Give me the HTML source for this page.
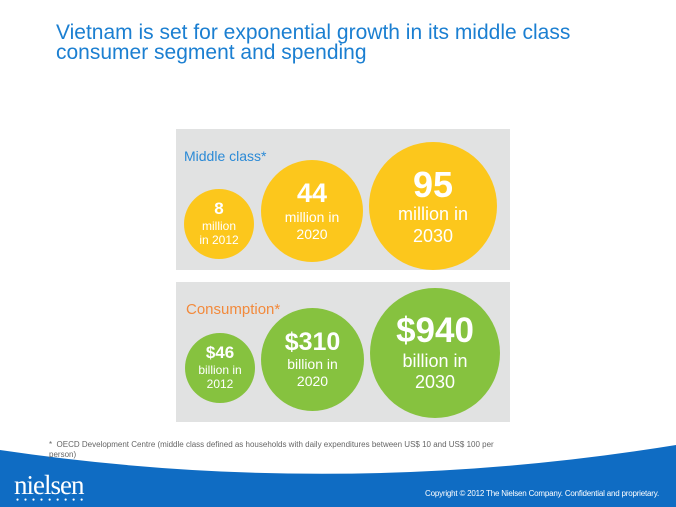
<!DOCTYPE html>
<html><head><meta charset="utf-8"><style>
body{margin:0;width:676px;height:507px;overflow:hidden;background:#fff;font-family:"Liberation Sans",sans-serif;position:relative}
.t{position:absolute;left:56px;top:23px;color:#1b7fd1;font-size:21px;line-height:20px}
.p{position:absolute;left:176px;width:334px;background:#e1e2e2}
.c{position:absolute;border-radius:50%;color:#fff;text-align:center;display:flex;flex-direction:column;justify-content:center;align-items:center;line-height:1.2}
.y{background:#fcc71c}.g{background:#86c23f}
b{font-weight:bold;line-height:1.1}
</style></head><body>
<div class="t">Vietnam is set for exponential growth in its middle class<br>consumer segment and spending</div>
<div class="p" style="top:129px;height:141px"></div>
<div class="p" style="top:282px;height:140px"></div>
<div style="position:absolute;left:184px;top:148px;color:#2b8ad6;font-size:14px">Middle class*</div>
<div style="position:absolute;left:186px;top:301px;color:#f28a3c;font-size:15px">Consumption*</div>
<div class="c y" style="left:184px;top:189px;width:70px;height:70px;font-size:12px"><b style="font-size:17px">8</b>million<br>in 2012</div>
<div class="c y" style="left:261px;top:160px;width:102px;height:102px;font-size:14px"><b style="font-size:27px">44</b>million in<br>2020</div>
<div class="c y" style="left:369px;top:142px;width:128px;height:128px;font-size:18px"><b style="font-size:36px">95</b>million in<br>2030</div>
<div class="c g" style="left:185px;top:333px;width:70px;height:70px;font-size:12px"><b style="font-size:17px">$46</b>billion in<br>2012</div>
<div class="c g" style="left:261px;top:308px;width:103px;height:103px;font-size:14px"><b style="font-size:25px">$310</b>billion in<br>2020</div>
<div class="c g" style="left:370px;top:288px;width:130px;height:130px;font-size:18px"><b style="font-size:35px">$940</b>billion in<br>2030</div>
<svg style="position:absolute;left:0;top:0" width="676" height="507"><path d="M0,450 Q338,500 676,445 L676,507 L0,507 Z" fill="#0f6cc3"/></svg>
<div style="position:absolute;left:49px;top:440px;font-size:8px;color:#666;line-height:10px;width:480px">*&nbsp; OECD Development Centre (middle class defined as households with daily expenditures between US$ 10 and US$ 100 per<br>person)</div>
<div style="position:absolute;left:14px;top:470px;color:#fff;font-family:'Liberation Serif',serif;font-size:27px;letter-spacing:-1px">nielsen</div>
<div style="position:absolute;left:16px;top:497px;color:#fff;font-size:5px;letter-spacing:5px">●●●●●●●●●</div>
<div style="position:absolute;left:425px;top:489px;color:#fff;font-size:8px;letter-spacing:-0.2px">Copyright © 2012 The Nielsen Company. Confidential and proprietary.</div>
</body></html>
